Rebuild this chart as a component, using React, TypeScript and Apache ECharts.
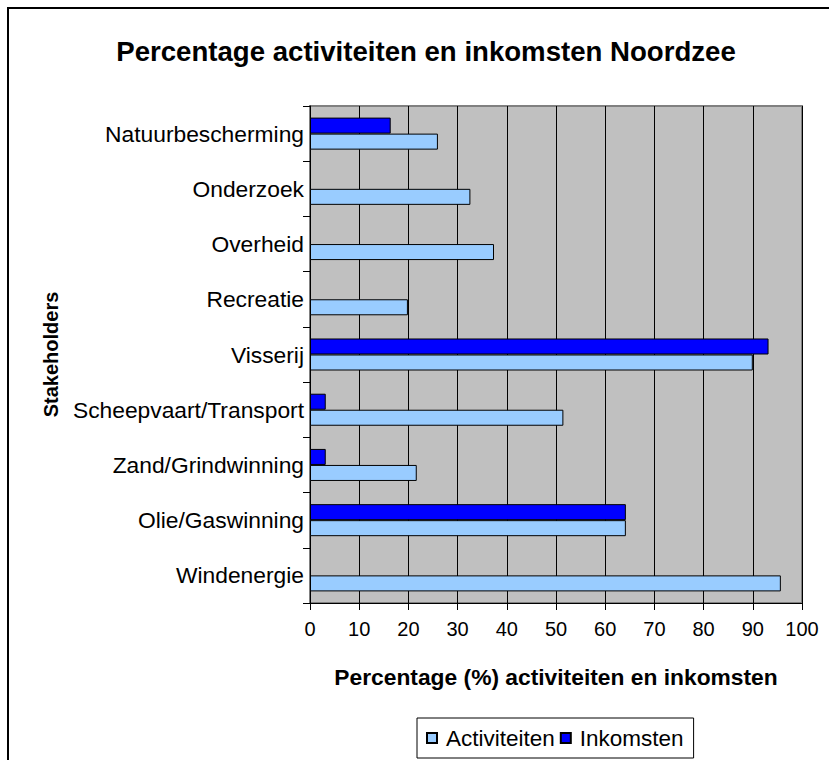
import React, { useEffect, useRef } from "react";
import * as echarts from "echarts";

const categories = [
  "Windenergie",
  "Olie/Gaswinning",
  "Zand/Grindwinning",
  "Scheepvaart/Transport",
  "Visserij",
  "Recreatie",
  "Overheid",
  "Onderzoek",
  "Natuurbescherming",
];
const activiteiten = [95.7, 64.2, 21.7, 51.5, 90.0, 19.9, 37.4, 32.6, 26.0];
const inkomsten = [null, 64.2, 3.2, 3.2, 93.2, null, null, null, 16.4];
const xTicks = [0, 10, 20, 30, 40, 50, 60, 70, 80, 90, 100];

const FONT = "'Liberation Sans', Arial, sans-serif";

export default function App() {
  const ref = useRef<HTMLDivElement>(null);
  useEffect(() => {
    if (!ref.current) return;
    const chart = echarts.init(ref.current, undefined, { renderer: "svg" });
    chart.setOption({
      animation: false,
      backgroundColor: "#ffffff",
      textStyle: { fontFamily: FONT },
      title: {
        text: "Percentage activiteiten en inkomsten Noordzee",
        left: 426,
        top: 37,
        padding: 0,
        textAlign: "center",
        textStyle: { fontFamily: FONT, fontSize: 27.6, fontWeight: "bold", color: "#000" },
      },
      graphic: [
        {
          type: "rect",
          shape: { x: 8, y: 8, width: 840, height: 780 },
          style: { fill: "none", stroke: "#000", lineWidth: 2 },
          silent: true,
          z: -1,
        },
      ],
      legend: {
        left: 417,
        top: 718,
        orient: "horizontal",
        padding: [8, 10, 8, 9],
        itemGap: 5,
        itemWidth: 10,
        itemHeight: 10,
        icon: "rect",
        borderColor: "#000",
        borderWidth: 1,
        backgroundColor: "#fff",
        textStyle: { fontFamily: FONT, fontSize: 22.5, color: "#000", lineHeight: 24, padding: [0, 0, 0, 4] },
        data: ["Activiteiten", "Inkomsten"],
      },
      grid: {
        left: 310,
        top: 106,
        right: 27,
        bottom: 157,
        show: true,
        backgroundColor: "#C0C0C0",
        borderColor: "#808080",
        borderWidth: 2,
      },
      xAxis: {
        type: "value",
        min: 0,
        max: 100,
        interval: 10,
        name: "Percentage (%) activiteiten en inkomsten",
        nameLocation: "middle",
        nameGap: 62,
        nameTextStyle: { fontFamily: FONT, fontSize: 22.8, fontWeight: "bold", color: "#000" },
        axisLine: { show: true, lineStyle: { color: "#000", width: 1 } },
        axisTick: { show: true, length: 7, lineStyle: { color: "#000" } },
        axisLabel: {
          fontFamily: FONT,
          fontSize: 20,
          color: "#000",
          margin: 16,
          formatter: (v: number) => (xTicks.includes(v) ? String(v) : ""),
        },
        splitLine: { show: true, lineStyle: { color: "#000", width: 1 } },
      },
      yAxis: {
        type: "category",
        data: categories,
        name: "Stakeholders",
        nameLocation: "middle",
        nameRotate: 90,
        nameGap: 249,
        nameTextStyle: { fontFamily: FONT, fontSize: 20, fontWeight: "bold", color: "#000" },
        axisLine: { show: true, lineStyle: { color: "#000", width: 1 } },
        axisTick: { show: true, length: 7, lineStyle: { color: "#000" } },
        axisLabel: { fontFamily: FONT, fontSize: 22.8, color: "#000", margin: 6 },
        splitLine: { show: false },
      },
      series: [
        {
          name: "Inkomsten",
          type: "bar",
          data: inkomsten,
          barGap: "0%",
          barCategoryGap: "42%",
          itemStyle: { color: "#0000FF", borderColor: "#000", borderWidth: 1 },
        },
        {
          name: "Activiteiten",
          type: "bar",
          data: activiteiten,
          barGap: "0%",
          barCategoryGap: "42%",
          itemStyle: { color: "#99CCFF", borderColor: "#000", borderWidth: 1 },
        },
      ],
    });
    return () => chart.dispose();
  }, []);
  return (
    <div
      ref={ref}
      style={{ position: "absolute", left: 0, top: 0, width: 829, height: 760 }}
    />
  );
}
